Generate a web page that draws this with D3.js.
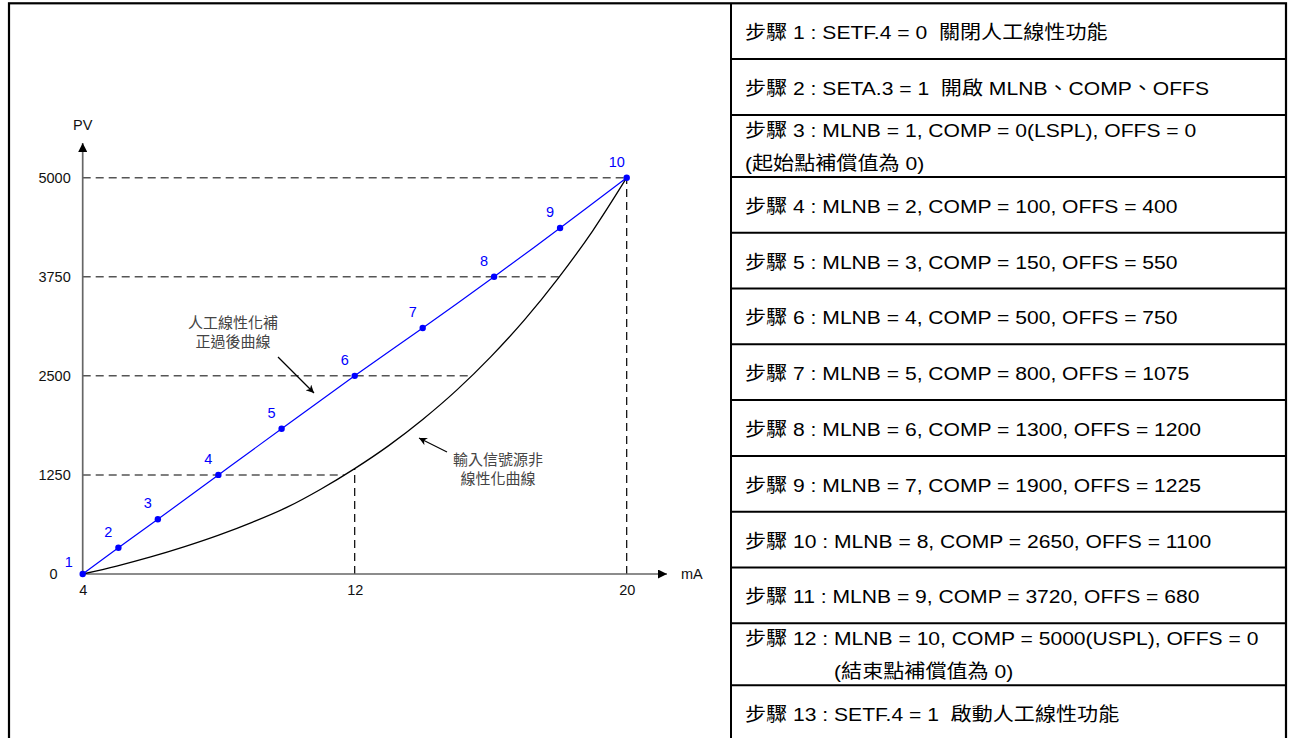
<!DOCTYPE html>
<html>
<head>
<meta charset="utf-8">
<script src="https://cdn.jsdelivr.net/npm/d3@7/dist/d3.min.js"></script>
<style>
    body { margin: 0; background: #fff; }
    text { font-family: "Liberation Sans", Arial, "Noto Sans CJK TC", sans-serif; }
</style>
</head>
<body>
<div id="chart"></div>
<script>
// compensated curve, points 1..10 (mA, PV)
const markerLabels = ['1', '2', '3', '4', '5', '6', '7', '8', '9', '10'];
const markerMA = [4, 5.05, 6.21, 7.99, 9.85, 12, 14.0, 16.1, 18.04, 20];
const markerPV = [0, 332, 690, 1250, 1833, 2500, 3104, 3750, 4365, 5000];

// raw (non linear) input curve
const rawMA = [4, 5, 6, 7, 8, 9, 10, 11, 12, 13, 14, 15, 16, 17, 18, 19, 20];
const rawPV = [0, 100, 215, 345, 490, 655, 840, 1070, 1330, 1620, 1950, 2320, 2740, 3210, 3740, 4330, 5000];

const yTicks = [0, 1250, 2500, 3750, 5000];
const xTicks = [4, 12, 20];
const gridPV = [1250, 2500, 3750, 5000];
const gridMA = [12, 20];

const noteCompensated = ['人工線性化補', '正過後曲線'];
const noteRaw = ['輸入信號源非', '線性化曲線'];

// table rows
const stepPrefix = ['步驟 1 : ', '步驟 2 : ', '步驟 3 : ', '步驟 4 : ', '步驟 5 : ', '步驟 6 : ', '步驟 7 : ',
    '步驟 8 : ', '步驟 9 : ', '步驟 10 : ', '步驟 11 : ', '步驟 12 : ', '步驟 13 : '];
const stepText = [
    'SETF.4 = 0  關閉人工線性功能',
    'SETA.3 = 1  開啟 MLNB、COMP、OFFS',
    'MLNB = 1, COMP = 0(LSPL), OFFS = 0',
    'MLNB = 2, COMP = 100, OFFS = 400',
    'MLNB = 3, COMP = 150, OFFS = 550',
    'MLNB = 4, COMP = 500, OFFS = 750',
    'MLNB = 5, COMP = 800, OFFS = 1075',
    'MLNB = 6, COMP = 1300, OFFS = 1200',
    'MLNB = 7, COMP = 1900, OFFS = 1225',
    'MLNB = 8, COMP = 2650, OFFS = 1100',
    'MLNB = 9, COMP = 3720, OFFS = 680',
    'MLNB = 10, COMP = 5000(USPL), OFFS = 0',
    'SETF.4 = 1  啟動人工線性功能'
];
const stepNote = ['', '', '(起始點補償值為 0)', '', '', '', '', '', '', '', '', '(結束點補償值為 0)', ''];

let width = 1289;
let height = 738;

let svg = d3.select('#chart').append('svg')
    .attr('width', width)
    .attr('height', height);

let defs = svg.append('defs');
defs.append('marker')
    .attr('id', 'axisArrow')
    .attr('markerUnits', 'userSpaceOnUse')
    .attr('viewBox', '0 0 10 10')
    .attr('refX', 10).attr('refY', 5)
    .attr('markerWidth', 10).attr('markerHeight', 9)
    .attr('orient', 'auto')
    .append('path').attr('d', 'M0,0L10,5L0,10z').attr('fill', '#000');
defs.append('marker')
    .attr('id', 'noteArrow')
    .attr('markerUnits', 'userSpaceOnUse')
    .attr('viewBox', '0 0 10 10')
    .attr('refX', 10).attr('refY', 5)
    .attr('markerWidth', 10).attr('markerHeight', 8)
    .attr('orient', 'auto')
    .append('path').attr('d', 'M0,0L10,5L0,10L3,5z').attr('fill', '#000');

const x = d3.scaleLinear().domain([4, 20]).range([82.7, 626.7]);
const y = d3.scaleLinear().domain([0, 5000]).range([574, 177.7]);

// raw curve lookups
const rawAt = d3.scaleLinear().domain(rawMA).range(rawPV);
const rawInv = d3.scaleLinear().domain(rawPV).range(rawMA);

let g = svg.append('g');

///Guide lines
g.append('g')
    .selectAll('line')
    .data(gridPV)
    .enter()
    .append('line')
    .attr('x1', x(4))
    .attr('x2', d => x(rawInv(d)))
    .attr('y1', d => y(d))
    .attr('y2', d => y(d))
    .attr('stroke', '#555')
    .attr('stroke-width', 1.5)
    .attr('stroke-dasharray', '8,5');

g.append('g')
    .selectAll('line')
    .data(gridMA)
    .enter()
    .append('line')
    .attr('x1', d => x(d))
    .attr('x2', d => x(d))
    .attr('y1', y(0))
    .attr('y2', d => y(rawAt(d)))
    .attr('stroke', '#000')
    .attr('stroke-width', 1.2)
    .attr('stroke-dasharray', '8,5');

///Axes
g.append('line')
    .attr('x1', x(4)).attr('y1', y(0))
    .attr('x2', 667).attr('y2', y(0))
    .attr('stroke', '#666').attr('stroke-width', 1.7)
    .attr('marker-end', 'url(#axisArrow)');
g.append('line')
    .attr('x1', x(4)).attr('y1', y(0))
    .attr('x2', x(4)).attr('y2', 143)
    .attr('stroke', '#666').attr('stroke-width', 1.7)
    .attr('marker-end', 'url(#axisArrow)');

let xAxis = g.append('g')
    .attr('transform', `translate(0,${y(0)})`)
    .call(d3.axisBottom(x).tickValues(xTicks).tickSize(0).tickPadding(11).tickFormat(d3.format('d')));
let yAxis = g.append('g')
    .attr('transform', `translate(${x(4)},0)`)
    .call(d3.axisLeft(y).tickValues(yTicks).tickSize(0).tickPadding(12).tickFormat(d3.format('d')));

[xAxis, yAxis].forEach(function(a) {
    a.select('.domain').remove();
    a.selectAll('text')
        .attr('font-family', '"Liberation Sans", Arial, sans-serif')
        .attr('font-size', 14.5)
        .attr('fill', '#111');
});
// "0" sits further left, beside point label 1
yAxis.selectAll('.tick text').filter(d => d === 0).attr('x', -25);

g.append('text')
    .attr('x', x(4)).attr('y', 130)
    .attr('text-anchor', 'middle')
    .attr('font-size', 14.5).attr('fill', '#111')
    .text('PV');
g.append('text')
    .attr('x', 681).attr('y', y(0) + 5)
    .attr('font-size', 14.5).attr('fill', '#111')
    .text('mA');

///Curves
g.append('path')
    .datum(rawMA.map((d, i) => [d, rawPV[i]]))
    .attr('fill', 'none')
    .attr('stroke', '#000')
    .attr('stroke-width', 1.3)
    .attr('d', d3.line().x(d => x(d[0])).y(d => y(d[1])).curve(d3.curveMonotoneX));

let markers = markerMA.map((d, i) => ({ ma: d, pv: markerPV[i], label: markerLabels[i] }));

g.append('path')
    .datum(markers)
    .attr('fill', 'none')
    .attr('stroke', '#0000ff')
    .attr('stroke-width', 1.2)
    .attr('d', d3.line().x(d => x(d.ma)).y(d => y(d.pv)).curve(d3.curveCatmullRom.alpha(0.5)));

g.append('g')
    .selectAll('circle')
    .data(markers)
    .enter()
    .append('circle')
    .attr('cx', d => x(d.ma))
    .attr('cy', d => y(d.pv))
    .attr('r', 3.2)
    .attr('fill', '#0000ff');

g.append('g')
    .selectAll('text')
    .data(markers)
    .enter()
    .append('text')
    .attr('x', d => x(d.ma) - (d.label === '1' ? 14 : 10))
    .attr('y', d => y(d.pv) - (d.label === '1' ? 7 : 11))
    .attr('text-anchor', 'middle')
    .attr('font-size', 14.5)
    .attr('fill', '#0000ff')
    .text(d => d.label);

///Notes
function note(lines, cx, cy) {
    g.append('text')
        .attr('text-anchor', 'middle')
        .attr('font-family', '"Noto Sans CJK TC", sans-serif')
        .attr('font-size', 15)
        .attr('fill', '#444')
        .selectAll('tspan')
        .data(lines)
        .enter()
        .append('tspan')
        .attr('x', cx)
        .attr('y', (d, i) => cy + i * 19)
        .text(d => d);
}
note(noteCompensated, 233, 328);
note(noteRaw, 498, 465);

g.append('line')
    .attr('x1', 278).attr('y1', 357)
    .attr('x2', 314).attr('y2', 393)
    .attr('stroke', '#000').attr('stroke-width', 1.2)
    .attr('marker-end', 'url(#noteArrow)');
g.append('line')
    .attr('x1', 447).attr('y1', 452)
    .attr('x2', 419).attr('y2', 438)
    .attr('stroke', '#000').attr('stroke-width', 1.2)
    .attr('marker-end', 'url(#noteArrow)');

///Table
const tableLeft = 731, tableRight = 1286, tableTop = 3.3;
const rowSingle = 55.8, rowDouble = 62;
const textLeft = 745, stretch = 1.11;

let rowTops = [];
let acc = tableTop;
stepText.forEach(function(d, i) {
    rowTops.push(acc);
    acc += stepNote[i] ? rowDouble : rowSingle;
});
const tableBottom = acc;

let table = svg.append('g');

table.selectAll('line.row')
    .data(rowTops.slice(1))
    .enter()
    .append('line')
    .attr('class', 'row')
    .attr('x1', tableLeft).attr('x2', tableRight)
    .attr('y1', d => d).attr('y2', d => d)
    .attr('stroke', '#000').attr('stroke-width', 2);

let rows = table.selectAll('g.step')
    .data(stepText)
    .enter()
    .append('g')
    .attr('class', 'step');

rows.each(function(d, i) {
    let row = d3.select(this);
    let h = stepNote[i] ? rowDouble : rowSingle;
    let mid = rowTops[i] + h / 2;
    let base = stepNote[i] ? mid - 9 : mid + 8;

    let t = row.append('text')
        .attr('transform', `translate(${textLeft},${base}) scale(${stretch},1)`)
        .attr('font-size', 19)
        .attr('fill', '#000')
        .style('white-space', 'pre');
    let pre = t.append('tspan').text(stepPrefix[i]);
    t.append('tspan').text(d);

    if (stepNote[i]) {
        // row 12 note is indented under MLNB
        let indent = i === 11 ? pre.node().getComputedTextLength() : 0;
        row.append('text')
            .attr('transform', `translate(${textLeft},${base + 33}) scale(${stretch},1)`)
            .attr('x', indent)
            .attr('font-size', 19)
            .attr('fill', '#000')
            .text(stepNote[i]);
    }
});

///Frame
svg.append('rect')
    .attr('x', 9).attr('y', tableTop)
    .attr('width', tableRight - 9)
    .attr('height', tableBottom - tableTop)
    .attr('fill', 'none')
    .attr('stroke', '#000')
    .attr('stroke-width', 2.2);
svg.append('line')
    .attr('x1', tableLeft).attr('x2', tableLeft)
    .attr('y1', tableTop).attr('y2', tableBottom)
    .attr('stroke', '#000').attr('stroke-width', 2);
</script>
</body>
</html>
